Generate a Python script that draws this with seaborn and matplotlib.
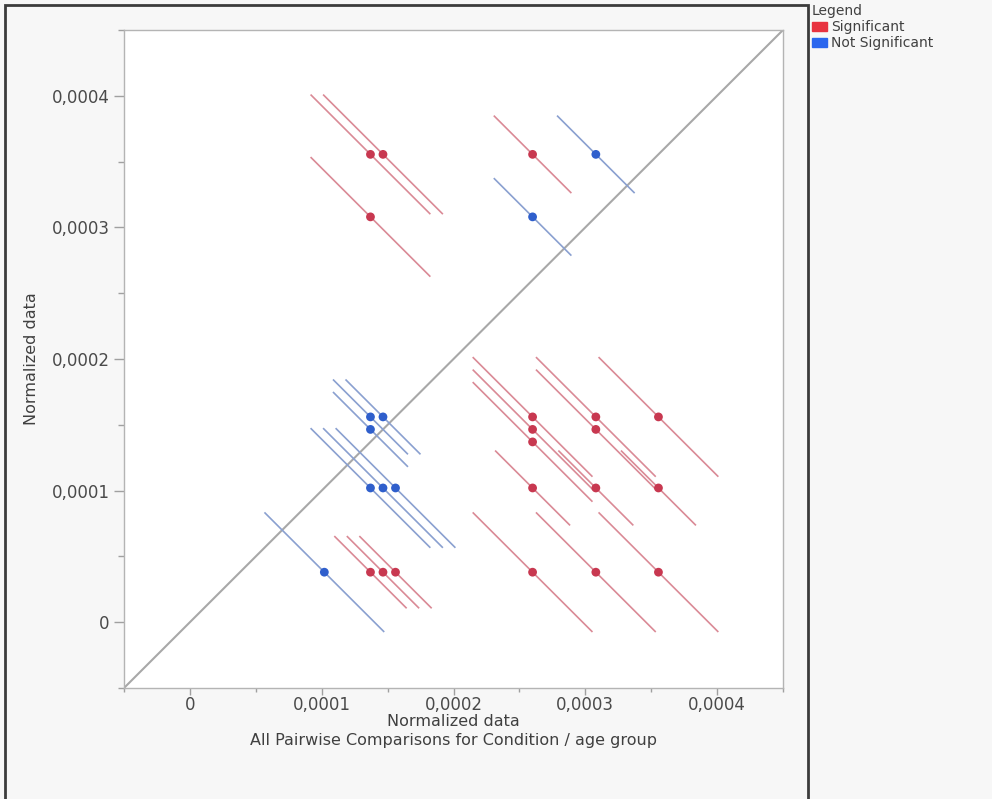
import matplotlib
matplotlib.use("Agg")
import pandas as pd
import matplotlib.pyplot as plt
import seaborn as sns
from matplotlib.patches import Patch, Rectangle
from matplotlib.ticker import MultipleLocator, FuncFormatter

# === DADOS (pares de médias, meia-largura do segmento, significância) ===
mean_x = [0.000102, 0.000137, 0.0001465, 0.000156, 0.000260, 0.000308, 0.0003555,
          0.000137, 0.0001465, 0.000156, 0.000260, 0.000308, 0.0003555,
          0.000137, 0.000137, 0.0001465,
          0.000260, 0.000260, 0.000260, 0.000308, 0.000308, 0.0003555,
          0.000137, 0.000137, 0.0001465,
          0.000260, 0.000260, 0.000308]
mean_y = [0.000038, 0.000038, 0.000038, 0.000038, 0.000038, 0.000038, 0.000038,
          0.000102, 0.000102, 0.000102, 0.000102, 0.000102, 0.000102,
          0.0001465, 0.000156, 0.000156,
          0.000137, 0.0001465, 0.000156, 0.0001465, 0.000156, 0.000156,
          0.000308, 0.0003555, 0.0003555,
          0.000308, 0.0003555, 0.0003555]
half_len = [0.000045, 0.000027, 0.000027, 0.000027, 0.000045, 0.000045, 0.000045,
            0.000045, 0.000045, 0.000045, 0.000028, 0.000028, 0.000028,
            0.000028, 0.000028, 0.000028,
            0.000045, 0.000045, 0.000045, 0.000045, 0.000045, 0.000045,
            0.000045, 0.000045, 0.000045,
            0.000029, 0.000029, 0.000029]
status = ["Not Significant", "Significant", "Significant", "Significant", "Significant", "Significant", "Significant",
          "Not Significant", "Not Significant", "Not Significant", "Significant", "Significant", "Significant",
          "Not Significant", "Not Significant", "Not Significant",
          "Significant", "Significant", "Significant", "Significant", "Significant", "Significant",
          "Significant", "Significant", "Significant",
          "Not Significant", "Significant", "Not Significant"]
axis_lim = [-0.00005, 0.00045]

df = pd.DataFrame({"x": mean_x, "y": mean_y, "h": half_len, "Legend": status})

dot_colors = {"Significant": "#c83850", "Not Significant": "#2f5fcc"}
line_colors = {"Significant": "#da8a96", "Not Significant": "#8aa0d0"}
swatch_colors = {"Significant": "#e8323f", "Not Significant": "#2a66ee"}

# === FIGURA ===
fig = plt.figure(figsize=(9.92, 7.99), dpi=100, facecolor="#f7f7f7")
ax = fig.add_axes([124 / 992, 1 - 688 / 799, 659 / 992, 658 / 799])
ax.set_facecolor("white")

# diagonal y = x
ax.plot(axis_lim, axis_lim, color="#a8a8a8", lw=1.5, zorder=1)

# segmentos perpendiculares à diagonal
for _, r in df.iterrows():
    ax.plot([r.x - r.h, r.x + r.h], [r.y + r.h, r.y - r.h],
            color=line_colors[r.Legend], lw=1.2, zorder=2)

sns.scatterplot(data=df, x="x", y="y", hue="Legend", palette=dot_colors,
                s=40, edgecolor="none", legend=False, ax=ax, zorder=3)

ax.set_xlim(axis_lim)
ax.set_ylim(axis_lim)

fmt = FuncFormatter(lambda v, p: "0" if abs(v) < 1e-12 else f"{v:.4f}".replace(".", ","))
for a in (ax.xaxis, ax.yaxis):
    a.set_major_locator(MultipleLocator(0.0001))
    a.set_minor_locator(MultipleLocator(0.00005))
    a.set_major_formatter(fmt)

ax.tick_params(which="both", direction="out", color="#a0a0a0", labelcolor="#4a4a4a", width=1)
ax.tick_params(which="major", length=7, labelsize=12)
ax.tick_params(which="minor", length=4)
ax.tick_params(axis="x", which="major", length=5, pad=0.5)
ax.tick_params(axis="x", which="minor", length=3)
for s in ax.spines.values():
    s.set_color("#b4b4b4")
    s.set_linewidth(1)

ax.set_xlabel("Normalized data\nAll Pairwise Comparisons for Condition / age group",
              fontsize=11.5, color="#404040", linespacing=1.35, labelpad=0)
ax.set_ylabel("Normalized data", fontsize=11.5, color="#404040", labelpad=9)

# === MOLDURA EXTERNA ===
fig.add_artist(Rectangle((5 / 992, -0.05), (808 - 5) / 992, 1 - 5 / 799 + 0.05,
                         transform=fig.transFigure, fill=False, ec="#3c3c3c", lw=2))

# === LEGENDA ===
handles = [Patch(color=swatch_colors[k]) for k in ["Significant", "Not Significant"]]
leg = fig.legend(handles, ["Significant", "Not Significant"], loc="upper left",
                 bbox_to_anchor=(812 / 992, 1 - 4 / 799), frameon=False, title="Legend",
                 fontsize=10, title_fontsize=10, handlelength=1.1, handleheight=0.65,
                 handletextpad=0.25, labelspacing=0.15, borderpad=0, borderaxespad=0,
                 alignment="left", labelcolor="#404040")
leg.get_title().set_color("#404040")

fig.savefig("out.png", dpi=100, facecolor=fig.get_facecolor())
